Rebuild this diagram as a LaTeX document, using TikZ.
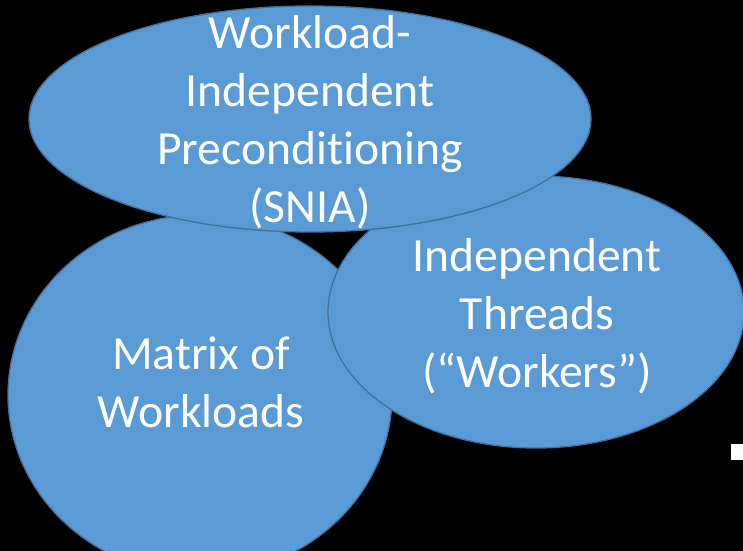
\documentclass[tikz,border=0pt]{standalone}
\usepackage{fontspec}
\setmainfont{Carlito}[RawFeature={-liga}]
\usetikzlibrary{shapes.geometric}

\definecolor{bubble}{HTML}{5B9BD5}
\definecolor{rim}{HTML}{41719C}

\begin{document}
\begin{tikzpicture}[x=1bp,y=-1bp,
  bubble/.style={ellipse, fill=bubble, draw=rim, line width=1.3bp, inner sep=0pt},
  caption/.style={text=white, align=center, inner sep=0pt,
    font=\fontsize{47.6bp}{58bp}\selectfont}]
\fill[black] (0,0) rectangle (743,551);
\useasboundingbox (0,0) rectangle (743,551);

% the three bubbles, back to front
\node (matrix) at (200,395) [bubble, minimum width=384bp, minimum height=360bp]{};
\node (threads) at (536,312) [bubble, minimum width=416bp, minimum height=272bp]{};
\node (precond) at (310,119) [bubble, minimum width=562bp, minimum height=226bp]{};

\node (matrix-t) at (201,382) [caption]{Matrix of\\Workloads};
\node (threads-t) at (537,316) [caption]{Independent\\Threads\\(“Workers”)};
\node (precond-t) at (310,122) [caption]{Workload-\\Independent\\Preconditioning\\(SNIA)};

% bullet at the right edge
\node (dot) at (739,452) [fill=white, minimum size=16bp, inner sep=0pt]{};
\end{tikzpicture}
\end{document}
